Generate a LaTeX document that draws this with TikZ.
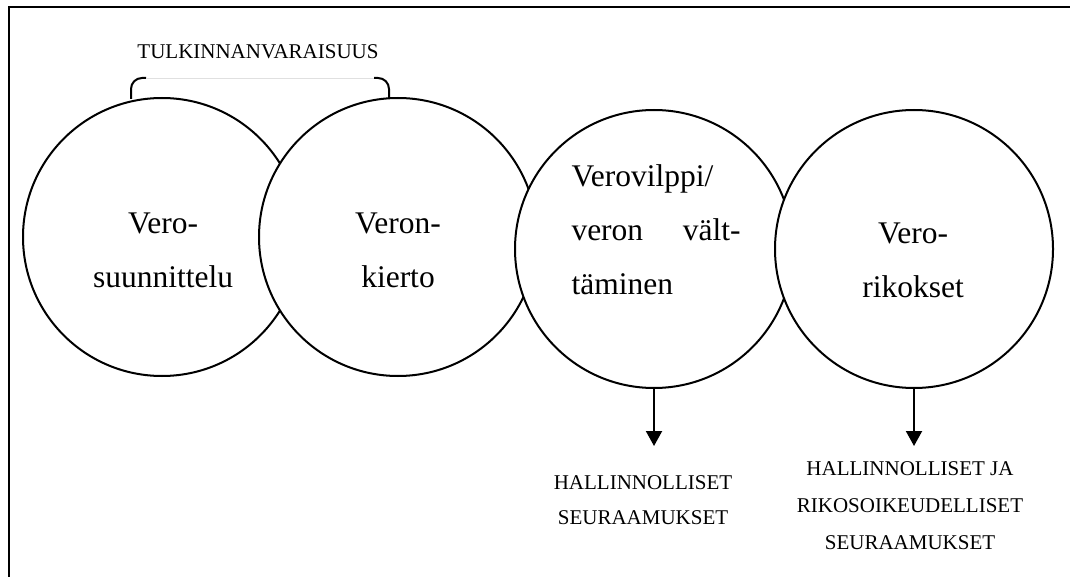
\documentclass[tikz,border=0pt]{standalone}
\usepackage{fontspec}
\setmainfont{Liberation Serif}
\usetikzlibrary{arrows.meta}
\begin{document}
\begin{tikzpicture}[x=0.5pt,y=-0.5pt,
	ympyra/.style={draw,circle,fill=white,line width=1pt,minimum size=139pt,inner sep=0pt},
	isoteksti/.style={inner sep=0pt,align=center,font=\fontsize{15.75}{27}\selectfont},
	pieniteksti/.style={inner sep=0pt,align=center,font=\fontsize{10.5}{17.5}\selectfont},
	nuoli/.style={line width=1pt,-{Triangle[length=7.5pt,width=8pt]}}]
	\useasboundingbox (0,0) rectangle (1070,577);
	\draw[line width=1pt] (9,577) -- (9,7) -- (1070,7);
	% sulku
	\draw[line width=1pt,rounded corners=5.5pt] (131,99) |- (146,78);
	\draw[black!12] (146,78) -- (374,78);
	\draw[line width=1pt,rounded corners=5.5pt] (374,78) -| (389,99);
	\node[pieniteksti] (tulk) at (258,52) {TULKINNANVARAISUUS};
	% ympyrat
	\node[ympyra] (c1) at (162,237) {};
	\node[ympyra] (c2) at (398,237) {};
	\node[ympyra] (c3) at (654,249) {};
	\node[ympyra] (c4) at (914,249) {};
	\node[isoteksti] (t1) at (163,250) {Vero-\\suunnittelu};
	\node[isoteksti] (t2) at (398,250) {Veron-\\kierto};
	\node[isoteksti,text width=84.5pt,align=left] (t3) at (656,230) {Verovilppi/\\veron\hfill vält-\\täminen};
	\node[isoteksti] (t4) at (913,260) {Vero-\\rikokset};
	% seuraamukset
	\coordinate (n3) at (654,446);
	\coordinate (n4) at (914,446);
	\draw[nuoli] (c3.south) -- (n3);
	\draw[nuoli] (c4.south) -- (n4);
	\node[pieniteksti] (s3) at (643,500) {HALLINNOLLISET\\SEURAAMUKSET};
	\node[pieniteksti,font=\fontsize{10.5}{18.5}\selectfont] (s4) at (910,506) {HALLINNOLLISET JA\\RIKOSOIKEUDELLISET\\SEURAAMUKSET};
\end{tikzpicture}
\end{document}
